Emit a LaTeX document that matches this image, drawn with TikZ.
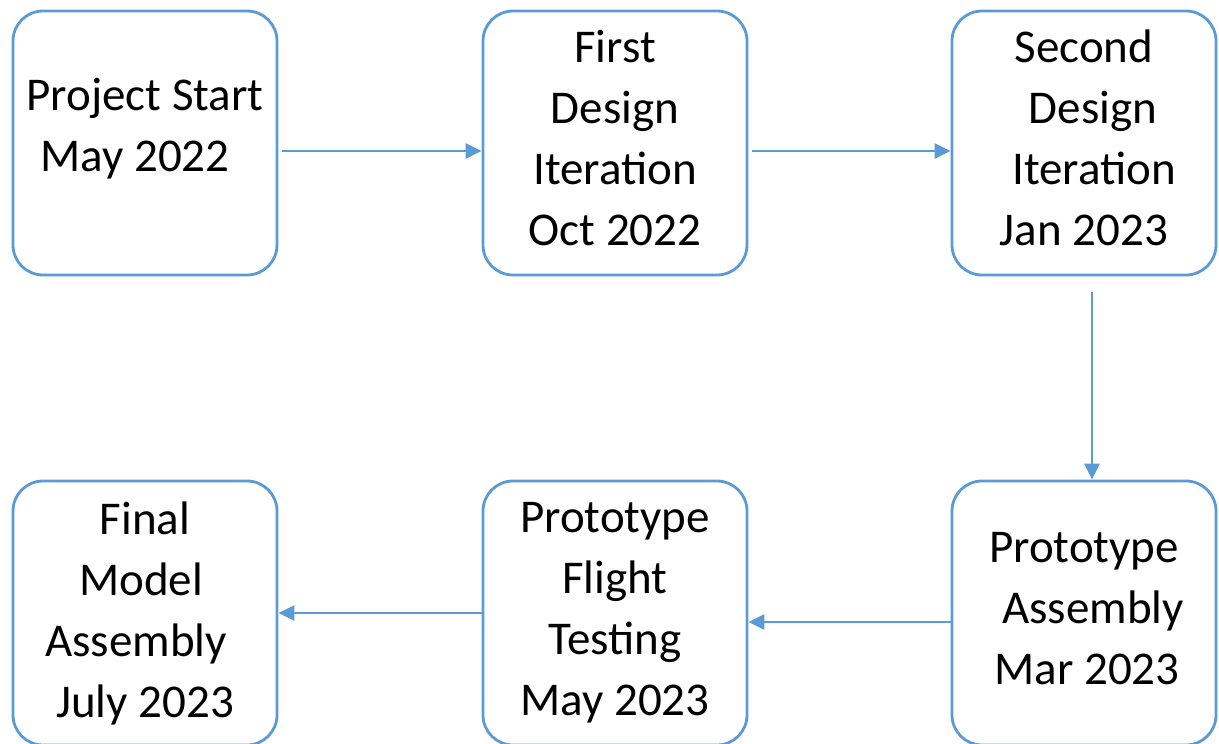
\documentclass[tikz,border=0pt]{standalone}
\usepackage{fontspec}
\setmainfont{Carlito}
\usetikzlibrary{arrows.meta}

\definecolor{officeblue}{HTML}{5B9BD5}

\tikzset{
  stage/.style={draw=officeblue, line width=2.8pt, rounded corners=30pt, fill=white,
    minimum width=264pt, minimum height=264pt, inner sep=0pt, align=center,
    font=\fontsize{47}{61}\selectfont},
  flow/.style={draw=officeblue, line width=2.6pt, -{Triangle[length=16pt,width=15pt]}}
}

\begin{document}
\begin{tikzpicture}[x=1pt, y=-1pt]
\useasboundingbox (0,0) rectangle (1219,744);

% ===================== TOP ROW =====================
\node[stage, text depth=36pt] (start) at (145,143) {Project Start\\May 2022\rule{20pt}{0pt}};
\node[stage, text depth=10pt] (iterA) at (615,143) {First\\Design\\Iteration\\Oct 2022};
\node[stage, text depth=10pt] (iterB) at (1084,143) {Second\\\rule{18pt}{0pt}Design\\\rule{20pt}{0pt}Iteration\\Jan 2023};

% ===================== BOTTOM ROW =====================
\node[stage, text depth=10pt] (assembly) at (1084,613) {Prototype\\\rule{18pt}{0pt}Assembly\\\rule{6pt}{0pt}Mar 2023};
\node[stage] (flighttest) at (615,613) {Prototype\\Flight\\Testing\\May 2023};
\node[stage] (finalmodel) at (145,613) {Final\\Model\rule{8pt}{0pt}\\Assembly\rule{18pt}{0pt}\\July 2023};

% ===================== CONNECTORS =====================
\draw[flow, shorten <=4pt] ([yshift=-8pt]start.east) -- ([yshift=-8pt]iterA.west);
\draw[flow, shorten <=4pt] ([yshift=-8pt]iterA.east) -- ([yshift=-8pt]iterB.west);
\draw[flow, shorten <=16pt] ([xshift=8pt]iterB.south) -- ([xshift=8pt]assembly.north);
\draw[flow] ([yshift=-9pt]assembly.west) -- ([yshift=-9pt]flighttest.east);
\draw[flow] (flighttest.west) -- (finalmodel.east);

\end{tikzpicture}
\end{document}
